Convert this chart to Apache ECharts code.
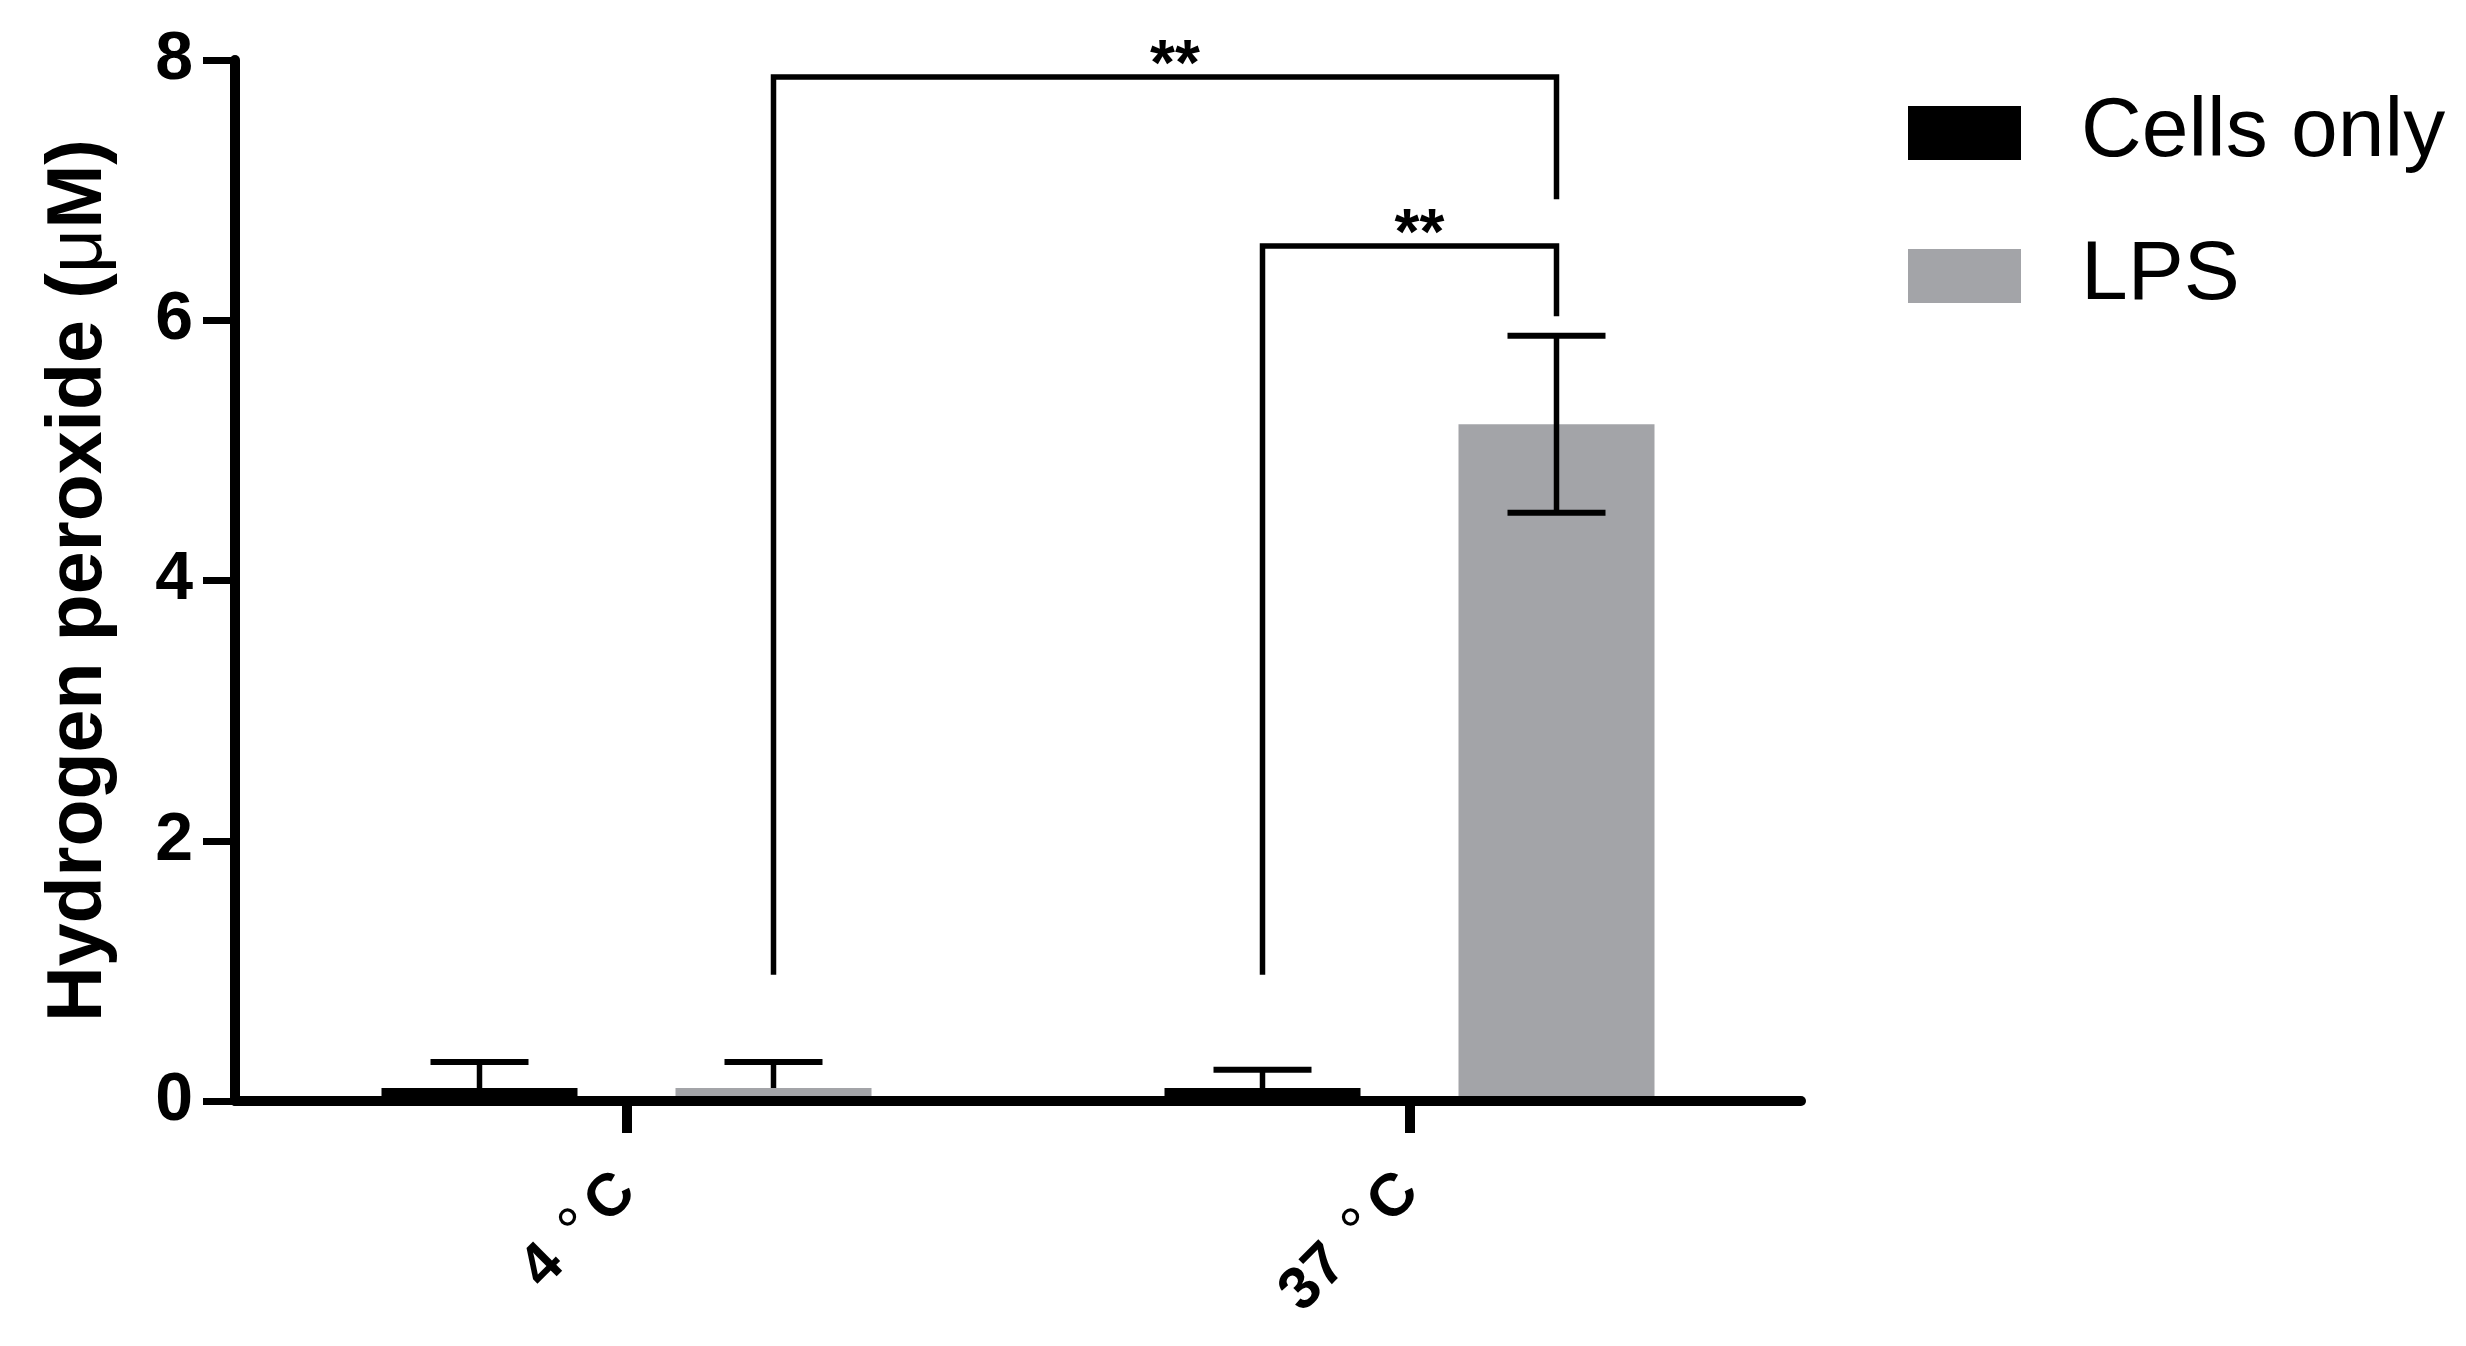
<!DOCTYPE html>
<html>
<head>
<meta charset="utf-8">
<script src="https://cdn.jsdelivr.net/npm/echarts@6/dist/echarts.min.js"></script>
<style>
    html, body { margin: 0; padding: 0; background: #fff; }
    #chart { width: 2466px; height: 1346px; }
</style>
</head>
<body>
<div id="chart"></div>
<script>
// 数据
var categories = ['4 °C', '37 °C'];
var seriesNames = ['Cells only', 'LPS'];
var cellsMean = [0.1, 0.1];
var cellsSD = [0.2, 0.14];
var lpsMean = [0.1, 5.2];
var lpsSD = [0.2, 0.68];
var yTicks = [0, 2, 4, 6, 8];

// 显著性标记 [类别, 组]
var bracketFrom = [[0, 1], [1, 0]];
var bracketTo = [[1, 1], [1, 1]];
var bracketTop = [7.87, 6.57];
var bracketLeftEnd = [0.97, 0.97];
var bracketRightEnd = [6.93, 6.03];
var bracketText = ['**', '**'];

var FONT = '"Liberation Sans", Arial, sans-serif';
var BAR_W = 196;
var BAR_GAP = 0.5;
var BAR_OFFSET = BAR_W * (1 + BAR_GAP) / 2;
var CAP_W = 98;
var grey = '#a3a4a8';

var errData = [];
for (var i = 0; i < categories.length; i++) {
    errData.push([i, 0, cellsMean[i], cellsSD[i]]);
    errData.push([i, 1, lpsMean[i], lpsSD[i]]);
}
var bracketData = [];
for (var j = 0; j < bracketTop.length; j++) {
    bracketData.push([bracketFrom[j][0], bracketFrom[j][1], bracketTo[j][0], bracketTo[j][1],
        bracketTop[j], bracketLeftEnd[j], bracketRightEnd[j], j]);
}

function groupX(api, cat, grp) {
    var c = api.coord([cat, 0])[0];
    return c + (grp === 0 ? -1 : 1) * BAR_OFFSET;
}

// 误差线
function renderError(params, api) {
    var cat = api.value(0), grp = api.value(1), mean = api.value(2), sd = api.value(3);
    var x = groupX(api, cat, grp);
    var yMean = api.coord([cat, mean])[1];
    var yTop = api.coord([cat, mean + sd])[1];
    var hasLow = mean - sd > 0;
    var yLow = hasLow ? api.coord([cat, mean - sd])[1] : yMean;
    var children = [
        { type: 'line', shape: { x1: x, y1: yTop, x2: x, y2: yLow }, style: { stroke: '#000', lineWidth: 5.5 } },
        { type: 'line', shape: { x1: x - CAP_W / 2, y1: yTop, x2: x + CAP_W / 2, y2: yTop }, style: { stroke: '#000', lineWidth: 6 } }
    ];
    if (hasLow) {
        children.push({ type: 'line', shape: { x1: x - CAP_W / 2, y1: yLow, x2: x + CAP_W / 2, y2: yLow }, style: { stroke: '#000', lineWidth: 6 } });
    }
    return { type: 'group', children: children };
}

// 显著性括号
function renderBracket(params, api) {
    var x1 = groupX(api, api.value(0), api.value(1));
    var x2 = groupX(api, api.value(2), api.value(3));
    var yTop = api.coord([0, api.value(4)])[1];
    var yL = api.coord([0, api.value(5)])[1];
    var yR = api.coord([0, api.value(6)])[1];
    var idx = api.value(7);
    return {
        type: 'group',
        children: [
            { type: 'polyline', shape: { points: [[x1, yL], [x1, yTop], [x2, yTop], [x2, yR]] },
              style: { stroke: '#000', lineWidth: 5.5, fill: null, lineJoin: 'miter' } },
            { type: 'text', style: { text: bracketText[idx], x: (x1 + x2) / 2 + 10, y: yTop - 10,
              align: 'center', verticalAlign: 'middle', fill: '#000',
              font: 'bold 64px ' + FONT } }
        ]
    };
}

var chart = echarts.init(document.getElementById('chart'));
var option = {
    backgroundColor: '#fff',
    animation: false,
    grid: { left: 235, right: 665, top: 60, bottom: 245 },
    legend: {
        orient: 'vertical',
        left: 1903,
        top: 86,
        itemWidth: 113,
        itemHeight: 54,
        itemGap: 59,
        icon: 'rect',
        data: seriesNames,
        formatter: '{n|{name}}',
        textStyle: {
            color: '#000',
            fontFamily: FONT,
            fontSize: 84,
            rich: { n: { fontFamily: FONT, fontSize: 84, color: '#000', padding: [0, 0, 0, 55] } }
        }
    },
    xAxis: {
        type: 'category',
        data: categories,
        z: 5,
        axisLine: { lineStyle: { color: '#000', width: 10 } },
        axisTick: { show: true, alignWithLabel: true, length: 32, lineStyle: { color: '#000', width: 10 } },
        axisLabel: {
            rotate: 45,
            margin: 82,
            formatter: function (v) {
                var parts = v.split('°');
                return '{t|' + parts[0] + '}{d|°}{t|' + parts[1] + '}';
            },
            rich: {
                t: { fontFamily: FONT, fontSize: 60, fontWeight: 'bold', color: '#000' },
                d: { fontFamily: FONT, fontSize: 62, fontWeight: 'normal', color: '#000', padding: [0, 10, 0, 7] }
            }
        },
        splitLine: { show: false }
    },
    yAxis: {
        type: 'value',
        min: yTicks[0],
        max: yTicks[yTicks.length - 1],
        interval: 2,
        z: 5,
        name: '{b|Hydrogen peroxide (}{m|μ}{b|M)}',
        nameLocation: 'middle',
        nameGap: 117,
        nameTextStyle: {
            rich: {
                b: { fontFamily: FONT, fontSize: 77, fontWeight: 'bold', color: '#000' },
                m: { fontFamily: FONT, fontSize: 77, fontWeight: 'normal', color: '#000' }
            }
        },
        axisLine: { show: true, lineStyle: { color: '#000', width: 10 } },
        axisTick: { show: true, length: 32, lineStyle: { color: '#000', width: 7 } },
        axisLabel: { margin: 42, fontFamily: FONT, fontSize: 68, fontWeight: 'bold', color: '#000' },
        splitLine: { show: false }
    },
    series: [
        { name: seriesNames[0], type: 'bar', data: cellsMean, barWidth: BAR_W, barGap: (BAR_GAP * 100) + '%',
          itemStyle: { color: '#000' } },
        { name: seriesNames[1], type: 'bar', data: lpsMean, barWidth: BAR_W, barGap: (BAR_GAP * 100) + '%',
          itemStyle: { color: grey } },
        { type: 'custom', data: errData, renderItem: renderError, encode: { x: 0, y: 2 }, z: 3, clip: false, silent: true },
        { type: 'custom', data: bracketData, renderItem: renderBracket, encode: { x: 0, y: 4 }, z: 3, clip: false, silent: true }
    ]
};
chart.setOption(option);
</script>
</body>
</html>
